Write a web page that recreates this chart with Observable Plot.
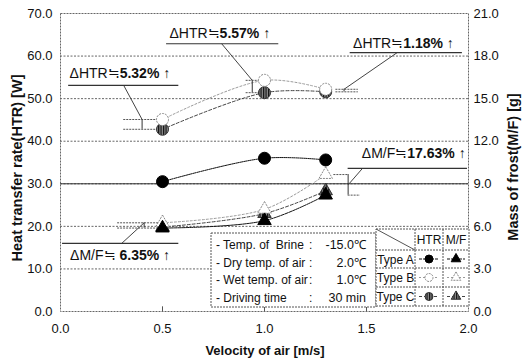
<!DOCTYPE html>
<html><head><meta charset="utf-8">
<script src="https://cdn.jsdelivr.net/npm/d3@7"></script>
<script src="https://cdn.jsdelivr.net/npm/@observablehq/plot@0.6"></script>
<style>
body{margin:0;background:#fff;}
#chart{width:526px;height:362px;}
</style></head><body><div id="chart"></div>
<script>
// ---- data ----
const velocity = [0.5, 1.0, 1.3];
const htrA = [30.5, 36.0, 35.6];
const htrB = [45.1, 54.3, 52.2];
const htrC = [42.8, 51.4, 51.6];
const mfA = [5.88, 6.4, 8.2];
const mfB = [6.25, 7.2, 9.65];
const mfC = [5.95, 6.9, 8.5];
const xTicks = [0, 0.5, 1.0, 1.5, 2.0];
const leftTicks = [0, 10, 20, 30, 40, 50, 60, 70];
const rightTickLabels = ["0.0", "3.0", "6.0", "9.0", "12.0", "15.0", "18.0", "21.0"];
const conditionLabels = ["- Temp. of  Brine", "- Dry temp. of air", "- Wet temp. of air", "- Driving time"];
const conditionValues = ["-15.0\u2103", "2.0\u2103", "1.0\u2103", "30 min"];
const typeNames = ["Type A", "Type B", "Type C"];
const tableHeads = ["HTR", "M/F"];
const axisTitles = ["Heat transfer rate(HTR) [W]", "Mass of frost(M/F) [g]", "Velocity of air [m/s]"];

// annotation text (label prefix, bold part) and anchor in data units
const annLabels = [
  {pre: "\u0394HTR\u2252", val: "5.32% \u2191", x: 0.29, y: 56.0},
  {pre: "\u0394HTR\u2252", val: "5.57% \u2191", x: 0.78, y: 65.3},
  {pre: "\u0394HTR\u2252", val: "1.18% \u2191", x: 1.68, y: 63.0},
  {pre: "\u0394M/F\u2252", val: "17.63% \u2191", x: 1.70, y: 37.0},
  {pre: "\u0394M/F\u2252", val: " 6.35% \u2191", x: 0.27, y: 13.1}
];
const underlines = [
  {x1: 0.04, x2: 0.58, y: 53.1},
  {x1: 0.52, x2: 1.07, y: 62.9},
  {x1: 1.42, x2: 1.97, y: 60.8},
  {x1: 1.41, x2: 1.995, y: 33.6},
  {x1: 0.01, x2: 0.58, y: 16.0}
];

const k = 70 / 21; // right axis (g) -> left axis units
const rows = [];
velocity.forEach((v, i) => {
  rows.push({v, type: "A", htr: htrA[i], mf: mfA[i] * k});
  rows.push({v, type: "B", htr: htrB[i], mf: mfB[i] * k});
  rows.push({v, type: "C", htr: htrC[i], mf: mfC[i] * k});
});
const byType = t => rows.filter(d => d.type === t);

// brackets built from the data values
const brackets = [
  {x: 0.40, xa: 0.31, xb: 0.49, lo: htrC[0], hi: htrB[0], lx: 0.31, ly: 53.1},
  {x: 0.94, xa: 0.91, xb: 1.02, lo: htrC[1], hi: htrB[1], lx: 0.79, ly: 62.9},
  {x: 1.39, xa: 1.35, xb: 1.46, lo: htrC[2], hi: htrB[2], lx: 1.65, ly: 60.8},
  {x: 0.41, xa: 0.28, xb: 0.50, lo: mfA[0] * k, hi: mfB[0] * k, lx: 0.30, ly: 16.0},
];
const bracketM = {x: 1.41, lo: mfA[2] * k, hi: mfB[2] * k};

const styles = {
  A: {stroke: "#111", dash: "3,1"},
  B: {stroke: "#9a9a9a", dash: "2,2"},
  C: {stroke: "#444", dash: "3,2"}
};
const fills = {A: "#000", B: "#fff", C: "url(#hatch)"};
const strokesM = {A: "#000", B: "#888", C: "#333"};

const marks = [
  Plot.gridY(leftTicks.slice(1, -1), {stroke: "#666", strokeOpacity: 1, strokeDasharray: "2,1.5"}),
  Plot.ruleY([30], {stroke: "#333", strokeWidth: 1}),
  Plot.frame({stroke: "#666", strokeDasharray: "2,1"}),
  Plot.ruleX([0.5, 1.0, 1.5], {y1: 0, y2: 1.1, stroke: "#555"}),
  Plot.axisY({ticks: leftTicks, tickFormat: d3.format(".1f"), tickSize: 0, tickPadding: 8, label: null, fontSize: 13}),
  Plot.axisY({anchor: "right", ticks: leftTicks, tickFormat: (d, i) => rightTickLabels[i], tickSize: 0, tickPadding: 5, label: null, fontSize: 13}),
  Plot.axisX({ticks: xTicks, tickFormat: d3.format(".1f"), tickSize: 0, tickPadding: 12, label: null, fontSize: 13}),
];

for (const t of ["A", "B", "C"]) {
  const s = styles[t];
  marks.push(Plot.line(byType(t), {x: "v", y: "htr", curve: "catmull-rom", stroke: s.stroke, strokeDasharray: s.dash, strokeWidth: 1}));
  marks.push(Plot.line(byType(t), {x: "v", y: "mf", curve: "catmull-rom", stroke: s.stroke, strokeDasharray: s.dash, strokeWidth: 1}));
}

// brackets / leader lines
marks.push(
  Plot.ruleX(brackets, {x: "x", y1: "lo", y2: "hi", stroke: "#333"}),
  Plot.ruleY(brackets, {y: "lo", x1: "xa", x2: "xb", stroke: "#555", strokeDasharray: "2,1"}),
  Plot.ruleY(brackets, {y: "hi", x1: "xa", x2: "xb", stroke: "#555", strokeDasharray: "2,1"}),
  Plot.link(brackets, {x1: "lx", y1: "ly", x2: "x", y2: "hi", stroke: "#444"}),
  Plot.ruleX([bracketM], {x: "x", y1: "lo", y2: "hi", stroke: "#333"}),
  Plot.ruleY([bracketM], {y: "hi", x1: 1.34, x2: 1.41, stroke: "#555", strokeDasharray: "2,1"}),
  Plot.ruleY([bracketM], {y: "lo", x1: 1.41, x2: 1.47, stroke: "#555", strokeDasharray: "2,1"}),
  Plot.link([bracketM], {x1: "x", y1: d => (d.lo + d.hi) / 2, x2: 1.48, y2: 33.6, stroke: "#444"}),
  Plot.ruleY(underlines, {y: "y", x1: "x1", x2: "x2", stroke: "#333", strokeWidth: 1.2}),
);

for (const t of ["C", "B", "A"]) {
  marks.push(Plot.dot(byType(t), {x: "v", y: "htr", r: 6, fill: fills[t], stroke: strokesM[t], strokeDasharray: t === "B" ? "2,1" : null, strokeWidth: 1}));
  marks.push(Plot.dot(byType(t), {x: "v", y: "mf", symbol: "triangle", r: 5, fill: fills[t], stroke: strokesM[t], strokeDasharray: t === "B" ? "2,1" : null, strokeWidth: 1}));
}

marks.push(
  Plot.text(annLabels, {x: "x", y: "y", text: "pre", textAnchor: "end", fontSize: 14, fill: "#111"}),
  Plot.text(annLabels, {x: "x", y: "y", text: "val", textAnchor: "start", fontSize: 14, fontWeight: "bold", fill: "#111"})
);

const chart = Plot.plot({
  width: 526, height: 362,
  marginLeft: 60, marginRight: 58, marginTop: 13, marginBottom: 51,
  x: {domain: [0, 2]},
  y: {domain: [0, 70]},
  style: {fontFamily: "'Liberation Sans', Arial, sans-serif", fontSize: "13px", color: "#111", background: "#fff"},
  marks
});
document.getElementById("chart").append(chart);

// hatch pattern + titles + legend boxes
const svg = d3.select(chart);
const defs = svg.insert("defs", ":first-child");
const pat = defs.append("pattern").attr("id", "hatch").attr("patternUnits", "userSpaceOnUse").attr("width", 2.5).attr("height", 2.5);
pat.append("rect").attr("width", 2.5).attr("height", 2.5).attr("fill", "#8a8a8a");
pat.append("rect").attr("width", 1.2).attr("height", 2.5).attr("fill", "#111");

const g = svg.append("g").attr("font-family", "'Liberation Sans', Arial, sans-serif").attr("fill", "#111").attr("text-anchor", "start");
g.append("text").attr("transform", "translate(17,168) rotate(-90)").attr("text-anchor", "middle").attr("dy", "0.35em")
  .attr("font-size", 14.5).attr("font-weight", "bold").text(axisTitles[0]);
g.append("text").attr("transform", "translate(513,167) rotate(-90)").attr("text-anchor", "middle").attr("dy", "0.35em")
  .attr("font-size", 14.5).attr("font-weight", "bold").text(axisTitles[1]);
g.append("text").attr("x", 265).attr("y", 355).attr("text-anchor", "middle")
  .attr("font-size", 13).attr("font-weight", "bold").text(axisTitles[2]);

// condition box
g.append("rect").attr("x", 211).attr("y", 233).attr("width", 165).attr("height", 74)
  .attr("fill", "#fff").attr("stroke", "#555").attr("stroke-dasharray", "2,1");
conditionLabels.forEach((t, i) => {
  const y = 249 + i * 17.5;
  g.append("text").attr("x", 216).attr("y", y).attr("font-size", 12).attr("text-anchor", "start").attr("xml:space", "preserve").style("white-space", "pre").text(t);
  g.append("text").attr("x", 309).attr("y", y).attr("font-size", 12).attr("text-anchor", "start").text(":");
  g.append("text").attr("x", 366).attr("y", y).attr("font-size", 12.5).attr("text-anchor", "end").text(conditionValues[i]);
});
// legend table
const tx = [376, 415, 443, 469], ty = [229, 250, 268, 287, 306];
g.append("rect").attr("x", tx[0]).attr("y", ty[0]).attr("width", tx[3] - tx[0]).attr("height", ty[4] - ty[0])
  .attr("fill", "#fff").attr("stroke", "#555").attr("stroke-dasharray", "2,1");
tx.slice(1, 3).forEach(x => g.append("line").attr("x1", x).attr("x2", x).attr("y1", ty[0]).attr("y2", ty[4]).attr("stroke", "#555").attr("stroke-dasharray", "2,1"));
ty.slice(1, 4).forEach(y => g.append("line").attr("x1", tx[0]).attr("x2", tx[3]).attr("y1", y).attr("y2", y).attr("stroke", "#555").attr("stroke-dasharray", "2,1"));
g.append("line").attr("x1", tx[0]).attr("y1", ty[0]).attr("x2", tx[1]).attr("y2", ty[1]).attr("stroke", "#555");
tableHeads.forEach((h, i) => g.append("text").attr("x", (tx[i + 1] + tx[i + 2]) / 2).attr("y", ty[1] - 6).attr("font-size", 12).attr("text-anchor", "middle").text(h));
["A", "B", "C"].forEach((t, i) => {
  const cy = (ty[i + 1] + ty[i + 2]) / 2;
  g.append("text").attr("x", (tx[0] + tx[1]) / 2).attr("y", cy + 4.5).attr("font-size", 12).attr("text-anchor", "middle").text(typeNames[i]);
  [0, 1].forEach(j => {
    const cx = (tx[j + 1] + tx[j + 2]) / 2;
    g.append("line").attr("x1", tx[j + 1] + 4).attr("x2", tx[j + 2] - 4).attr("y1", cy).attr("y2", cy)
      .attr("stroke", styles[t].stroke).attr("stroke-dasharray", styles[t].dash);
    const sym = j === 0 ? d3.symbolCircle : d3.symbolTriangle;
    g.append("path").attr("d", d3.symbol(sym, j === 0 ? 50 : 40)())
      .attr("transform", `translate(${cx},${cy})`)
      .attr("fill", fills[t]).attr("stroke", strokesM[t]).attr("stroke-dasharray", t === "B" ? "2,1" : null);
  });
});
</script>
</body></html>
